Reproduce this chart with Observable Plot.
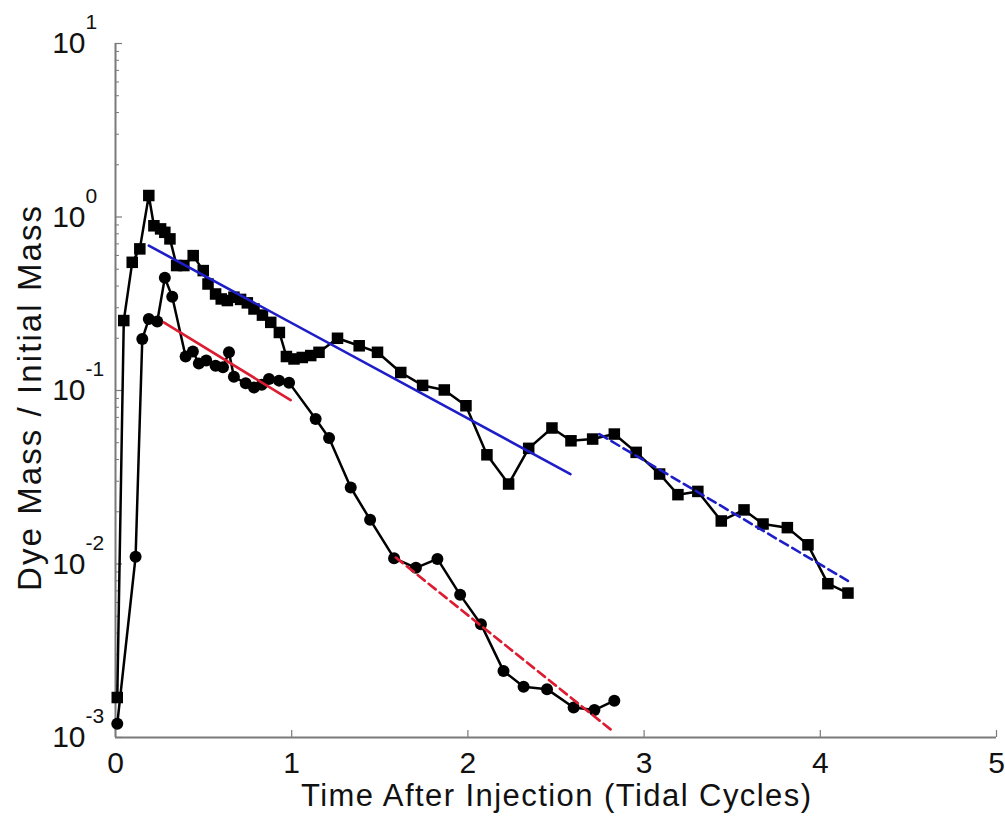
<!DOCTYPE html>
<html>
<head>
<meta charset="utf-8">
<script src="https://cdn.jsdelivr.net/npm/d3@7"></script>
<script src="https://cdn.jsdelivr.net/npm/@observablehq/plot@0.6"></script>
<style>
  html, body { margin: 0; padding: 0; background: #fff; }
  #chart svg { display: block; font-family: "Liberation Sans", Arial, sans-serif; }
</style>
</head>
<body>
<div id="chart"></div>
<script>
// Upper series (squares)
const sqTime = [0.01,0.047,0.095,0.138,0.189,0.218,0.256,0.28,0.309,0.347,0.388,0.441,0.498,0.525,0.568,0.6,0.635,0.672,0.71,0.748,0.786,0.834,0.881,0.93,0.97,1.013,1.06,1.108,1.155,1.26,1.383,1.487,1.619,1.743,1.866,1.989,2.108,2.231,2.345,2.477,2.585,2.708,2.831,2.955,3.088,3.192,3.305,3.438,3.567,3.675,3.813,3.93,4.043,4.157];
const sqMass = [0.0017,0.253,0.548,0.655,1.33,0.89,0.854,0.816,0.748,0.525,0.525,0.599,0.491,0.411,0.36,0.337,0.33,0.345,0.335,0.32,0.295,0.272,0.247,0.216,0.157,0.152,0.155,0.159,0.166,0.2,0.181,0.166,0.127,0.107,0.1007,0.0817,0.0426,0.0289,0.0464,0.0608,0.0513,0.0525,0.0561,0.044,0.033,0.0251,0.0262,0.0177,0.0205,0.017,0.0162,0.0129,0.0077,0.0068];
// Lower series (circles)
const ciTime = [0.01,0.114,0.152,0.189,0.237,0.28,0.322,0.398,0.439,0.473,0.515,0.568,0.61,0.644,0.672,0.739,0.786,0.83,0.871,0.928,0.985,1.136,1.212,1.335,1.445,1.581,1.705,1.827,1.956,2.074,2.202,2.316,2.449,2.6,2.718,2.831];
const ciMass = [0.0012,0.011,0.198,0.258,0.25,0.446,0.347,0.157,0.168,0.143,0.149,0.139,0.136,0.166,0.12,0.11,0.104,0.108,0.1165,0.114,0.111,0.0685,0.0532,0.0276,0.018,0.0108,0.0095,0.0107,0.00664,0.0045,0.00242,0.00196,0.0019,0.00149,0.00144,0.00163];
// Fitted decay lines (end points)
const blueFitT = [0.189, 2.582];
const blueFitM = [0.684, 0.033];
const blueDashT = [2.746, 4.157];
const blueDashM = [0.0561, 0.008];
const redFitT = [0.274, 0.994];
const redFitM = [0.247, 0.088];
const redDashT = [1.591, 2.831];
const redDashM = [0.0109, 0.00107];
// Axes
const xTicks = [0, 1, 2, 3, 4, 5];
const yTicks = [1e-3, 1e-2, 1e-1, 1, 10];
const yExponents = ["-3", "-2", "-1", "0", "1"];
const yMinor = [];
for (let d = -3; d < 1; d++) for (let m = 2; m <= 9; m++) yMinor.push(m * Math.pow(10, d));
const xTitle = "Time After Injection (Tidal Cycles)";
const yTitle = "Dye Mass / Initial Mass";

const zip = (t, m) => t.map((x, i) => ({t: x, m: m[i]}));
const squares = zip(sqTime, sqMass);
const circles = zip(ciTime, ciMass);
const blueFit = zip(blueFitT, blueFitM);
const blueDash = zip(blueDashT, blueDashM);
const redFit = zip(redFitT, redFitM);
const redDash = zip(redDashT, redDashM);
const yLab = yTicks.map((v, i) => ({v, e: yExponents[i]}));

const W = 1005, H = 817;
const mL = 115, mR = 9, mT = 43, mB = 80;
const pw = W - mL - mR, ph = H - mT - mB;
const axisColor = "#7a7a7a";
const blue = "#1e1ec8";
const red = "#dc1c30";

const chart = Plot.plot({
  width: W, height: H,
  marginLeft: mL, marginRight: mR, marginTop: mT, marginBottom: mB,
  style: {fontFamily: '"Liberation Sans", Arial, sans-serif', color: "#111", background: "#fff"},
  x: {domain: [0, 5], axis: null},
  y: {type: "log", domain: [1e-3, 10], axis: null},
  marks: [
    Plot.ruleX([0], {stroke: axisColor, strokeWidth: 2}),
    Plot.ruleY([1e-3], {stroke: axisColor, strokeWidth: 2}),
    Plot.tickX(xTicks, {x: d => d, stroke: axisColor, strokeWidth: 1.2, insetTop: ph - 7}),
    Plot.tickY(yTicks, {y: d => d, stroke: axisColor, strokeWidth: 1.2, insetRight: pw - 7}),
    Plot.tickY(yMinor, {y: d => d, stroke: axisColor, strokeWidth: 1, insetRight: pw - 4}),
    Plot.text(xTicks, {x: d => d, text: d => String(d), frameAnchor: "bottom", lineAnchor: "top", dy: 14, fontSize: 30, fill: "#111"}),
    Plot.text(yLab, {y: "v", text: () => "10", frameAnchor: "left", textAnchor: "end", dx: -30, fontSize: 30, fill: "#111"}),
    Plot.text(yLab, {y: "v", text: "e", frameAnchor: "left", textAnchor: "start", dx: -30, dy: -21, fontSize: 21, fill: "#111"}),
    Plot.text([xTitle], {text: d => d, frameAnchor: "bottom", textAnchor: "middle", lineAnchor: "middle", dy: 59, fontSize: 31, fill: "#111"}),
    Plot.text([yTitle], {text: d => d, frameAnchor: "left", textAnchor: "middle", rotate: -90, lineAnchor: "middle", dx: -85, dy: 8, fontSize: 33, fill: "#111"}),
    Plot.line(squares, {x: "t", y: "m", stroke: "#000", strokeWidth: 2.5}),
    Plot.dot(squares, {x: "t", y: "m", symbol: "square", r: 6.5, fill: "#000", stroke: "none"}),
    Plot.line(circles, {x: "t", y: "m", stroke: "#000", strokeWidth: 2.5}),
    Plot.dot(circles, {x: "t", y: "m", r: 6, fill: "#000", stroke: "none"}),
    Plot.line(blueFit, {x: "t", y: "m", stroke: blue, strokeWidth: 2.6}),
    Plot.line(blueDash, {x: "t", y: "m", stroke: blue, strokeWidth: 2.6, strokeDasharray: "9,5"}),
    Plot.line(redFit, {x: "t", y: "m", stroke: red, strokeWidth: 2.6}),
    Plot.line(redDash, {x: "t", y: "m", stroke: red, strokeWidth: 2.6, strokeDasharray: "9,5"})
  ]
});
// stretch the axis titles to the reference's text lengths
const titleLengths = new Map([[xTitle, 510], [yTitle, 385]]);
d3.select(chart).selectAll("text").each(function () {
  const len = titleLengths.get(this.textContent.trim());
  if (len) {
    this.setAttribute("textLength", len);
    this.setAttribute("lengthAdjust", "spacing");
  }
});
document.getElementById("chart").appendChild(chart);
</script>
</body>
</html>
